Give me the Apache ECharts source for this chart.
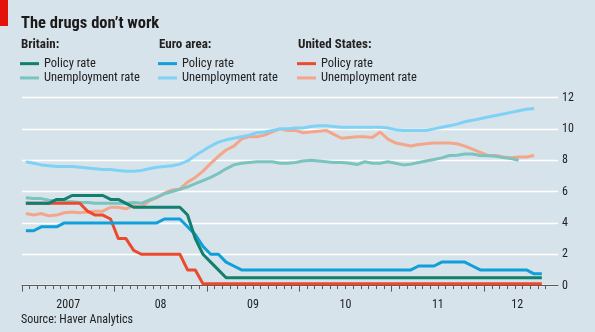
<!DOCTYPE html>
<html>
<head>
<meta charset="utf-8">
<script src="https://cdn.jsdelivr.net/npm/echarts@6/dist/echarts.min.js"></script>
<style>
  html, body { margin: 0; padding: 0; background: #d7e3ea; }
  #chart { width: 595px; height: 332px; }
</style>
</head>
<body>
<div id="chart"></div>
<script>
// Monthly series, first value = January 2007
const britainPolicy = [5.25,5.25,5.25,5.25,5.5,5.5,5.75,5.75,5.75,5.75,5.75,5.5,5.5,5.25,5.0,5.0,5.0,5.0,5.0,5.0,5.0,4.5,3.0,2.0,1.5,1.0,
  0.5,0.5,0.5,0.5,0.5,0.5,0.5,0.5,0.5,0.5,0.5,0.5,0.5,0.5,0.5,0.5,0.5,0.5,0.5,0.5,0.5,0.5,0.5,0.5,0.5,0.5,0.5,0.5,0.5,0.5,0.5,0.5,0.5,0.5,0.5,0.5,0.5,0.5,0.5,0.5,0.5,0.5];
const britainUnemployment = [5.6,5.55,5.55,5.45,5.4,5.35,5.35,5.3,5.3,5.25,5.25,5.25,5.25,5.25,5.3,5.25,5.45,5.65,5.85,6.0,6.15,6.3,6.5,6.7,6.9,7.15,
  7.45,7.7,7.8,7.85,7.9,7.9,7.9,7.8,7.8,7.85,7.95,8.0,7.95,7.9,7.85,7.85,7.8,7.72,7.9,7.8,7.8,7.9,7.8,7.7,7.75,7.85,7.95,8.05,8.15,8.3,8.32,8.4,8.4,8.3,8.28,8.25,8.17,8.1,8.0];
const euroPolicy = [3.5,3.5,3.75,3.75,3.75,4.0,4.0,4.0,4.0,4.0,4.0,4.0,4.0,4.0,4.0,4.0,4.0,4.0,4.25,4.25,4.25,3.75,3.25,2.5,2.0,2.0,1.5,1.25,
  1.0,1.0,1.0,1.0,1.0,1.0,1.0,1.0,1.0,1.0,1.0,1.0,1.0,1.0,1.0,1.0,1.0,1.0,1.0,1.0,1.0,1.0,1.0,1.25,1.25,1.25,1.5,1.5,1.5,1.5,1.25,1.0,1.0,1.0,1.0,1.0,1.0,1.0,0.75,0.75];
const euroUnemployment = [7.9,7.8,7.7,7.65,7.6,7.6,7.6,7.55,7.5,7.45,7.4,7.4,7.35,7.3,7.3,7.35,7.45,7.55,7.6,7.65,7.75,7.95,8.3,8.6,8.9,9.15,
  9.3,9.4,9.5,9.6,9.75,9.8,9.9,10.0,10.0,10.05,10.05,10.15,10.2,10.2,10.15,10.1,10.1,10.1,10.1,10.1,10.1,10.05,9.95,9.9,9.9,9.9,9.9,10.0,10.1,10.2,10.3,10.45,10.55,10.65,10.75,10.85,10.95,11.05,11.15,11.25,11.3];
const usPolicy = [5.25,5.25,5.25,5.25,5.25,5.25,5.25,5.25,4.75,4.5,4.5,4.25,3.0,3.0,2.25,2.0,2.0,2.0,2.0,2.0,2.0,1.0,1.0,0.125,
  0.125,0.125,0.125,0.125,0.125,0.125,0.125,0.125,0.125,0.125,0.125,0.125,0.125,0.125,0.125,0.125,0.125,0.125,0.125,0.125,0.125,0.125,0.125,0.125,0.125,0.125,0.125,0.125,0.125,0.125,0.125,0.125,0.125,0.125,0.125,0.125,0.125,0.125,0.125,0.125,0.125,0.125,0.125,0.125];
const usUnemployment = [4.6,4.5,4.6,4.45,4.5,4.65,4.7,4.65,4.7,4.75,4.75,5.0,5.0,4.9,5.1,5.0,5.4,5.6,5.9,6.1,6.15,6.6,6.9,7.3,7.8,8.25,
  8.65,8.9,9.35,9.5,9.5,9.6,9.8,10.0,9.9,9.9,9.75,9.8,9.85,9.9,9.65,9.4,9.45,9.5,9.5,9.45,9.8,9.35,9.1,9.0,8.9,9.0,9.05,9.1,9.1,9.1,9.05,8.9,8.7,8.5,8.3,8.3,8.2,8.15,8.2,8.2,8.3];

// Year labels, placed at the middle of each year's span (months from Jan 2007)
const yearLabels = ['2007', '08', '09', '10', '11', '12'];
const yearLabelPos = [6, 18, 30, 42, 54, 64.3];
const yearStarts = [0, 12, 24, 36, 48, 60];
const lastMonthTick = 68;

const FONT = '"Liberation Sans Narrow", "Roboto Condensed", Roboto, sans-serif';
const TEXT = '#222';

// place each monthly value in the middle of its month
const toPoints = arr => arr.map((v, i) => [i + 0.5, v]);

const monthTicks = [];
for (let m = 0; m <= lastMonthTick; m++) monthTicks.push(m);

const colors = {
  britainPolicy: '#127f6f',
  britainUnemp: '#7ac3bf',
  euroPolicy: '#0f9fd9',
  euroUnemp: '#7fd2f6',
  usPolicy: '#ec4a2e',
  usUnemp: '#f4a68b'
};

function line(name, data, color) {
  return {
    name: name,
    type: 'line',
    xAxisIndex: 0,
    data: toPoints(data),
    showSymbol: false,
    symbol: 'none',
    color: color,
    lineStyle: { width: 3, color: color, join: 'round' },
    emphasis: { disabled: true },
    animation: false
  };
}

function legendBlock(left, names) {
  return {
    left: left,
    top: 56.5,
    padding: 0,
    orient: 'vertical',
    icon: 'rect',
    itemWidth: 19,
    itemHeight: 3,
    itemGap: 0,
    selectedMode: false,
    data: names,
    formatter: n => n.split(': ')[1],
    textStyle: { fontFamily: FONT, fontSize: 12.5, lineHeight: 14.3, height: 14.3, color: TEXT }
  };
}

const chart = echarts.init(document.getElementById('chart'), null, { renderer: 'canvas' });

chart.setOption({
  backgroundColor: '#d7e3ea',
  animation: false,
  title: {
    text: 'The drugs don’t work',
    left: 21,
    top: 15,
    padding: 0,
    textStyle: { fontFamily: FONT, fontSize: 16.5, fontWeight: 'bold', color: '#1a1a1a' }
  },
  graphic: [
    { type: 'rect', left: 0, top: 0, shape: { width: 8, height: 26 }, style: { fill: '#e3120b' } },
    { type: 'text', left: 21, top: 38.5, style: { text: 'Britain:', font: 'bold 13px ' + FONT, fill: TEXT } },
    { type: 'text', left: 159, top: 38.5, style: { text: 'Euro area:', font: 'bold 13px ' + FONT, fill: TEXT } },
    { type: 'text', left: 298, top: 38.5, style: { text: 'United States:', font: 'bold 13px ' + FONT, fill: TEXT } },
    { type: 'text', left: 21, top: 314, style: { text: 'Source: Haver Analytics', font: '12px ' + FONT, fill: TEXT } }
  ],
  legend: [
    legendBlock(20, ['Britain: Policy rate', 'Britain: Unemployment rate']),
    legendBlock(158, ['Euro area: Policy rate', 'Euro area: Unemployment rate']),
    legendBlock(297, ['United States: Policy rate', 'United States: Unemployment rate'])
  ],
  grid: { left: 22, right: 37, top: 97.5, bottom: 46.4, containLabel: false },
  xAxis: [
    {
      type: 'value',
      min: 0,
      max: 69.6,
      position: 'bottom',
      axisLine: { show: true, lineStyle: { color: '#5a5a5a', width: 1 } },
      axisTick: { show: true, customValues: yearStarts, length: 6, lineStyle: { color: '#5a5a5a', width: 1 } },
      axisLabel: {
        show: true,
        customValues: yearLabelPos,
        formatter: v => yearLabels[yearLabelPos.indexOf(v)] || '',
        margin: 13.5,
        fontFamily: FONT,
        fontSize: 12,
        color: TEXT
      },
      splitLine: { show: false }
    },
    {
      type: 'value',
      min: 0,
      max: 69.6,
      position: 'bottom',
      axisLine: { show: false },
      axisTick: { show: true, customValues: monthTicks, length: 3.5, lineStyle: { color: '#5a5a5a', width: 1 } },
      axisLabel: { show: false },
      splitLine: { show: false }
    }
  ],
  yAxis: {
    type: 'value',
    position: 'right',
    min: 0,
    max: 12,
    interval: 2,
    axisLine: { show: false },
    axisTick: { show: false },
    axisLabel: { margin: 4, fontFamily: FONT, fontSize: 12, color: TEXT },
    splitLine: { show: true, lineStyle: { color: '#ffffff', width: 1.3 } }
  },
  series: [
    line('United States: Unemployment rate', usUnemployment, colors.usUnemp),
    line('Britain: Unemployment rate', britainUnemployment, colors.britainUnemp),
    line('Euro area: Unemployment rate', euroUnemployment, colors.euroUnemp),
    line('United States: Policy rate', usPolicy, colors.usPolicy),
    line('Euro area: Policy rate', euroPolicy, colors.euroPolicy),
    line('Britain: Policy rate', britainPolicy, colors.britainPolicy)
  ]
});
</script>
</body>
</html>
